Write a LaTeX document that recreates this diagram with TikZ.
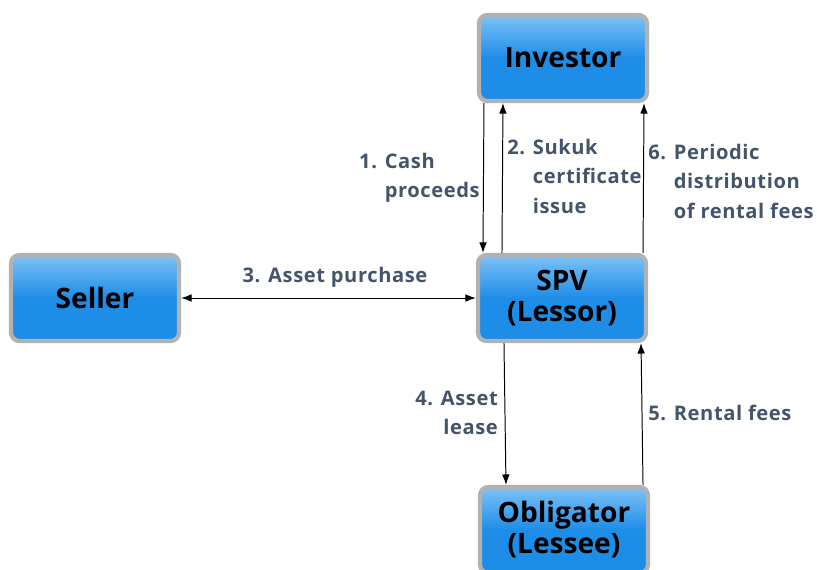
\documentclass[tikz,border=0pt]{standalone}
\usepackage{fontspec}
\setmainfont{Open Sans}
\usetikzlibrary{arrows.meta}

\definecolor{boxblue}{RGB}{30,141,232}
\definecolor{boxtop}{RGB}{125,194,246}
\definecolor{boxrim}{RGB}{178,178,178}
\definecolor{notegray}{RGB}{68,84,106}

\tikzset{
  party/.style={draw=boxrim, line width=3pt, rounded corners=6pt,
    top color=boxtop, bottom color=boxblue, middle color=boxblue,
    minimum width=4.2cm, minimum height=2.15cm, align=center,
    font=\fontsize{20}{22}\selectfont\bfseries},
  flow/.style={line width=0.7pt, -{Latex[length=2.6mm,width=1.9mm]}},
  both/.style={line width=0.7pt, {Latex[length=2.6mm,width=1.9mm]}-{Latex[length=2.6mm,width=1.9mm]}},
  note/.style={text=notegray, inner sep=0pt,
    font=\fontsize{14.3}{21}\selectfont\bfseries\addfontfeatures{LetterSpace=3}},
}

\begin{document}
\begin{tikzpicture}[x=0.025cm, y=-0.025cm]
\useasboundingbox (0,0) rectangle (817,570);

% parties
\node[party] (investor) at (563,58) {Investor};
\node[party] (spv) at (562,298) {SPV\\(Lessor)};
\node[party] (seller) at (95,298) {Seller};
\node[party] (obligator) at (564,530) {Obligator\\(Lessee)};

% flows between investor and spv
\draw[flow] ([xshift=-1.975cm]investor.south) -- ([xshift=-1.975cm]spv.north);
\draw[flow] ([xshift=-1.5cm]spv.north) -- ([xshift=-1.5cm]investor.south);
\draw[flow] ([xshift=2.025cm]spv.north) -- ([xshift=2.025cm]investor.south);

% seller <-> spv
\draw[both] (seller) -- (spv);

% flows between spv and obligator
\draw[flow] ([xshift=-1.45cm]spv.south) -- ([xshift=-1.45cm]obligator.north);
\draw[flow] ([xshift=1.975cm]obligator.north) -- ([xshift=1.975cm]spv.south);

% labels
\node[note, anchor=east] (cash) at (480,177)
  {\begin{tabular}{@{}l@{ }l@{}}1.&Cash\\&proceeds\end{tabular}};
\node[note, anchor=west] (sukuk) at (507,178)
  {\begin{tabular}{@{}l@{ }l@{}}2.&Sukuk\\&certificate\\&issue\end{tabular}};
\node[note, anchor=west] (periodic) at (648,183)
  {\begin{tabular}{@{}l@{ }l@{}}6.&Periodic\\&distribution\\&of rental fees\end{tabular}};
\node[note] (purchase) at (335,277) {3. Asset purchase};
\node[note, anchor=west] (lease) at (415,414)
  {\begin{tabular}{@{}l@{ }r@{}}4.&Asset\\&lease\end{tabular}};
\node[note, anchor=west] (rental) at (648,413) {5. Rental fees};
\end{tikzpicture}
\end{document}
